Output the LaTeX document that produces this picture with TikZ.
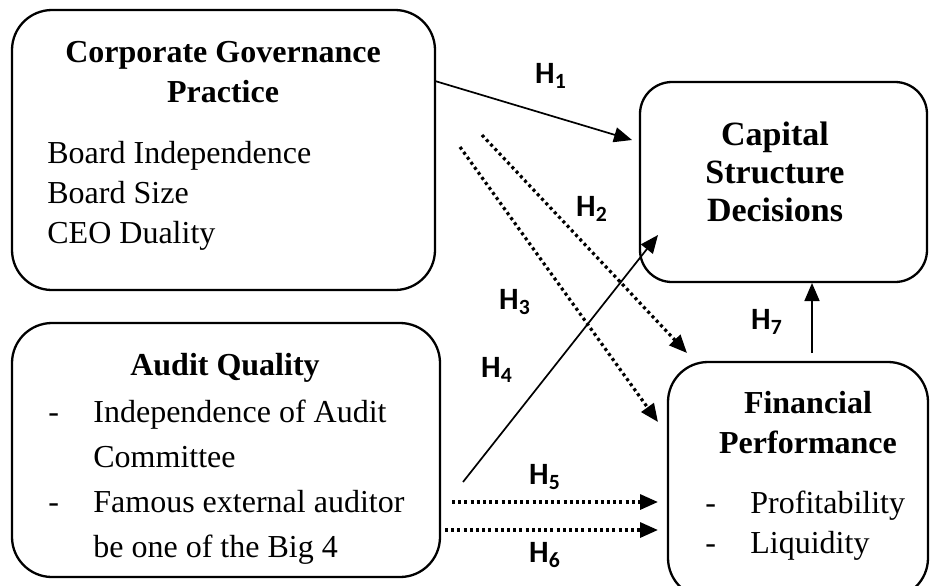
\documentclass[tikz,border=0pt]{standalone}
\usepackage{fontspec}
\setmainfont{Liberation Serif}
\newfontfamily\hypfont{Carlito}
\usetikzlibrary{arrows.meta, positioning}

\begin{document}
\begin{tikzpicture}[
        x=0.5pt, y=-0.5pt, >={Triangle[length=9pt,width=7.5pt]},
        box/.style={draw, line width=1.15pt, rounded corners=20pt, inner sep=0pt},
        head/.style={font=\fontsize{16}{20}\selectfont\bfseries, align=center, inner sep=0pt},
        body/.style={font=\fontsize{16}{20}\selectfont, align=left, inner sep=0pt},
        hyp/.style={font=\fontsize{15.5}{18}\selectfont\hypfont\bfseries, inner sep=0pt},
        plain link/.style={->, line width=0.85pt},
        dot link/.style={->, line width=1.6pt, dash pattern=on 1.5pt off 1.6pt},
        ]
        \useasboundingbox (0,0) rectangle (937,585);
        \clip (0,0) rectangle (937,585);

        % boxes
        \node[box, minimum width=211.5pt, minimum height=140pt]                     (cgp) at (223.5,150) {};
        \node[box, minimum width=143.5pt, minimum height=100pt, rounded corners=16pt] (csd) at (783.5,182) {};
        \node[box, minimum width=214pt, minimum height=127pt]                       (aq)  at (226,450)   {};
        \node[box, minimum width=130pt, minimum height=118pt]                       (fp)  at (798,480)   {};

        % texts
        \node[head, anchor=north]      (cgp title) at (223,41)  {Corporate Governance\\Practice};
        \node[body, anchor=north west] (cgp items) at (47,141)  {Board Independence\\Board Size\\CEO Duality};
        \node[head, anchor=north, font=\fontsize{17}{19}\selectfont\bfseries]
                                       (csd title) at (775,122) {Capital\\Structure\\Decisions};
        \node[head, anchor=north]      (aq title)  at (225,353) {Audit Quality};
        \node[body, anchor=north west, font=\fontsize{16}{22.5}\selectfont] (aq items) at (48,391)
              {\begin{tabular}{@{}p{22.5pt}@{}l@{}}
                 - & Independence of Audit\\
                   & Committee\\
                 - & Famous external auditor\\
                   & be one of the Big 4
               \end{tabular}};
        \node[head, anchor=north]      (fp title)  at (808,391) {Financial\\Performance};
        \node[body, anchor=north west] (fp items)  at (705,485)
              {\begin{tabular}{@{}p{22.5pt}@{}l@{}}
                 - & Profitability\\
                 - & Liquidity
               \end{tabular}};

        % arrow ends
        \coordinate (h1a) at (435,81);  \coordinate (h1b) at (632,140);
        \coordinate (h2a) at (482,135); \coordinate (h2b) at (687,353);
        \coordinate (h3a) at (460,147); \coordinate (h3b) at (658,422);
        \coordinate (h4a) at (463,482); \coordinate (h4b) at (658,235);
        \coordinate (h5a) at (452,502); \coordinate (h5b) at (658,502);
        \coordinate (h6a) at (445,530); \coordinate (h6b) at (658,530);
        \coordinate (h7a) at (812,353); \coordinate (h7b) at (812,283);

        \draw[plain link] (h1a) -- (h1b);
        \draw[dot link]   (h2a) -- (h2b);
        \draw[dot link]   (h3a) -- (h3b);
        \draw[plain link] (h4a) -- (h4b);
        \draw[dot link]   (h5a) -- (h5b);
        \draw[dot link]   (h6a) -- (h6b);
        \draw[plain link] (h7a) -- (h7b);

        % hypothesis labels
        \node[hyp] (H1) at (551,76)  {H\textsubscript{1}};
        \node[hyp] (H2) at (592,209) {H\textsubscript{2}};
        \node[hyp] (H3) at (515,302) {H\textsubscript{3}};
        \node[hyp] (H4) at (497,370) {H\textsubscript{4}};
        \node[hyp] (H5) at (545,477) {H\textsubscript{5}};
        \node[hyp] (H6) at (545,555) {H\textsubscript{6}};
        \node[hyp] (H7) at (767,322) {H\textsubscript{7}};
\end{tikzpicture}
\end{document}
